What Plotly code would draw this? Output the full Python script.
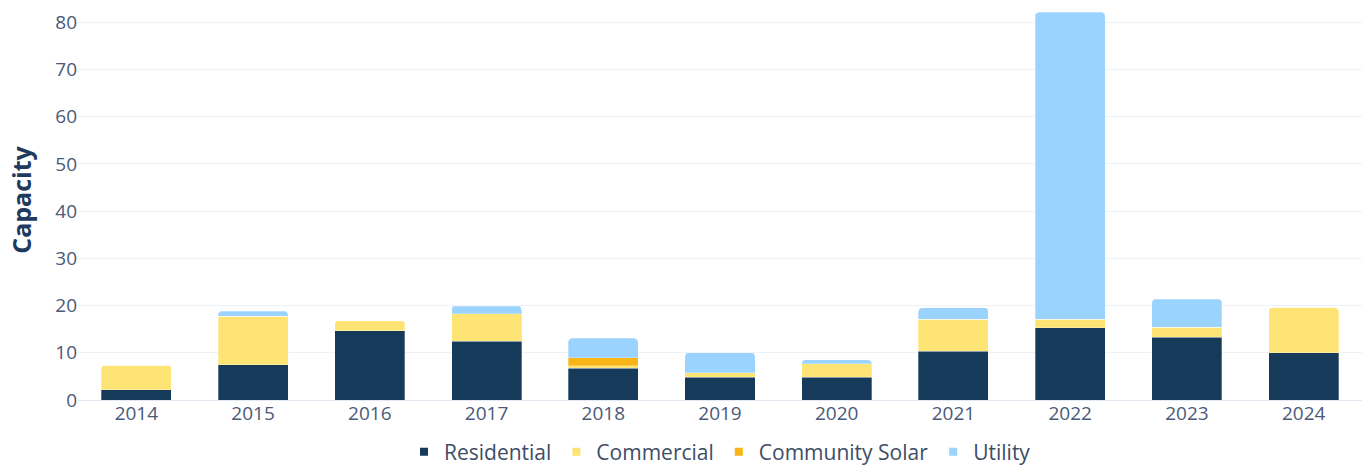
import plotly.graph_objects as go

years = ["2014", "2015", "2016", "2017", "2018", "2019", "2020", "2021", "2022", "2023", "2024"]
residential = [2.2, 7.5, 14.7, 12.4, 6.7, 4.8, 4.8, 10.3, 15.3, 13.3, 10.0]
commercial = [5.2, 10.2, 2.1, 5.9, 0.6, 1.0, 2.9, 6.8, 1.8, 2.15, 9.6]
community_solar = [0, 0, 0, 0, 1.65, 0, 0, 0, 0, 0, 0]
utility = [0, 1.1, 0, 1.6, 4.1, 4.2, 0.8, 2.4, 65.0, 5.9, 0]

series = [
    ("Residential", residential, "#163a59"),
    ("Commercial", commercial, "#fde475"),
    ("Community Solar", community_solar, "#f9b417"),
    ("Utility", utility, "#99d3fe"),
]

fig = go.Figure()
for name, vals, color in series:
    fig.add_trace(go.Bar(
        x=years, y=vals, name=name, legendgroup=name, showlegend=False,
        marker=dict(color=color, line=dict(color="rgba(255,255,255,0.6)", width=0.5)),
    ))
# small square legend keys
for name, vals, color in series:
    fig.add_trace(go.Scatter(
        x=[None], y=[None], mode="markers", name=name, legendgroup=name,
        marker=dict(symbol="square", size=8, color=color),
    ))

font_family = "Open Sans, Roboto, sans-serif"
fig.update_layout(
    barmode="stack",
    bargap=0.4,
    barcornerradius=4,
    width=1368, height=469,
    margin=dict(l=78, r=6, t=0, b=69),
    paper_bgcolor="white",
    plot_bgcolor="white",
    font=dict(family=font_family, size=19, color="#4a5a78"),
    xaxis=dict(
        type="category",
        showgrid=False,
        tickfont=dict(size=19, color="#4a5a78"),
        ticks="",
    ),
    yaxis=dict(
        range=[0, 84.7],
        dtick=10,
        gridcolor="#eef2f8",
        gridwidth=1,
        zeroline=True,
        zerolinecolor="#e3e9f2",
        zerolinewidth=1,
        tickfont=dict(size=19, color="#4a5a78"),
        title=dict(text="<b>Capacity</b>", font=dict(size=25, color="#1f3a5f"), standoff=16),
    ),
    legend=dict(
        orientation="h",
        x=0.5, xanchor="center", xref="paper",
        y=0.08, yanchor="top", yref="container",
        font=dict(size=21, color="#3d4d66"),
        itemwidth=30,
        itemsizing="trace",
        traceorder="normal",
    ),
)

fig.write_html("out.html")
